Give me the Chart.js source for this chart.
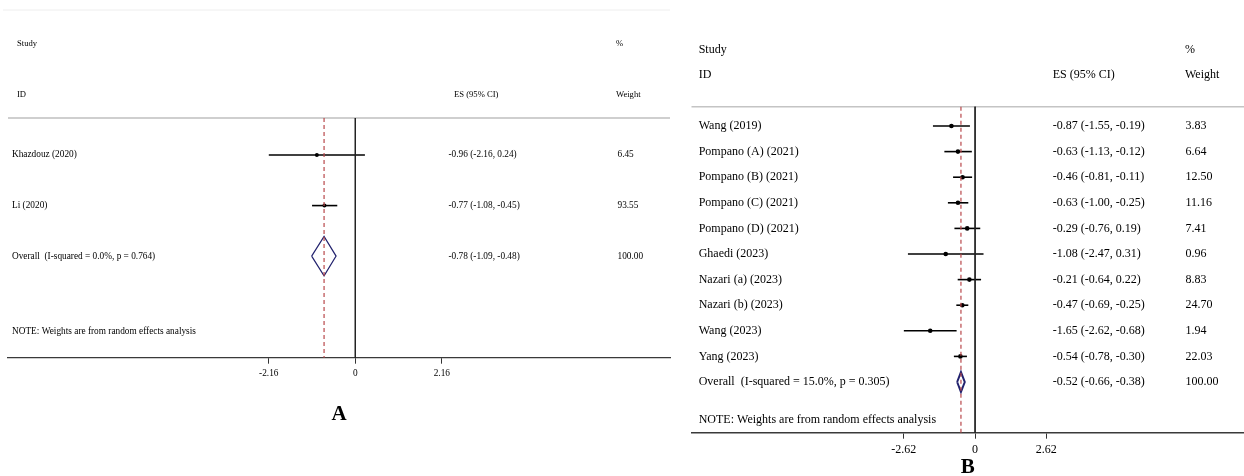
<!DOCTYPE html>
<html>
<head>
<meta charset="utf-8">
<title>Forest plots A and B</title>
<script src="https://cdn.jsdelivr.net/npm/chart.js@4"></script>
<style>
  html, body { margin: 0; padding: 0; background: #fff; }
  #wrap { position: relative; width: 1244px; height: 476px; overflow: hidden; }
  canvas { position: absolute; top: 0; }
  #plotA { left: 0; }
  #plotB { left: 680px; }
</style>
</head>
<body>
<div id="wrap">
  <canvas id="plotA" width="680" height="476"></canvas>
  <canvas id="plotB" width="564" height="476"></canvas>
</div>
<script>
// panel A data
const studiesA = ["Khazdouz (2020)", "Li (2020)"];
const esA = [-0.96, -0.77];
const lowA = [-2.16, -1.08];
const highA = [0.24, -0.45];
const weightA = [6.45, 93.55];
const overallLabelA = "Overall  (I-squared = 0.0%, p = 0.764)";
const overallA = [-0.78, -1.09, -0.48];   // es, low, high
const ticksA = [-2.16, 0, 2.16];

// panel B data
const studiesB = ["Wang (2019)", "Pompano (A) (2021)", "Pompano (B) (2021)", "Pompano (C) (2021)",
  "Pompano (D) (2021)", "Ghaedi (2023)", "Nazari (a) (2023)", "Nazari (b) (2023)", "Wang (2023)", "Yang (2023)"];
const esB = [-0.87, -0.63, -0.46, -0.63, -0.29, -1.08, -0.21, -0.47, -1.65, -0.54];
const lowB = [-1.55, -1.13, -0.81, -1.00, -0.76, -2.47, -0.64, -0.69, -2.62, -0.78];
const highB = [-0.19, -0.12, -0.11, -0.25, 0.19, 0.31, 0.22, -0.25, -0.68, -0.30];
const weightB = [3.83, 6.64, 12.50, 11.16, 7.41, 0.96, 8.83, 24.70, 1.94, 22.03];
const overallLabelB = "Overall  (I-squared = 15.0%, p = 0.305)";
const overallB = [-0.52, -0.66, -0.38];
const ticksB = [-2.62, 0, 2.62];

const noteText = "NOTE: Weights are from random effects analysis";
const FONT = '"Liberation Serif", "Times New Roman", serif';

function esText(es, lo, hi) {
  return es.toFixed(2) + " (" + lo.toFixed(2) + ", " + hi.toFixed(2) + ")";
}

// draws the text columns and header rules
const tablePlugin = {
  id: "table",
  beforeDatasetsDraw(chart) {
    const L = chart.options.plugins.table;
    const ctx = chart.ctx;
    const area = chart.chartArea;
    ctx.save();
    if (L.topRule) {
      ctx.strokeStyle = "#eeeeee";
      ctx.lineWidth = 1;
      ctx.beginPath();
      ctx.moveTo(L.topRule.x0, L.topRule.y);
      ctx.lineTo(area.right, L.topRule.y);
      ctx.stroke();
    }
    ctx.strokeStyle = L.ruleColor;
    ctx.lineWidth = L.ruleWidth;
    ctx.beginPath();
    ctx.moveTo(area.left, area.top);
    ctx.lineTo(area.right, area.top);
    ctx.stroke();
    ctx.restore();
  },
  afterDraw(chart) {
    const L = chart.options.plugins.table;
    const d = L.data;
    const ctx = chart.ctx;
    const y = v => chart.scales.y.getPixelForValue(v);
    ctx.save();
    ctx.fillStyle = "#000";
    ctx.textBaseline = "middle";
    ctx.textAlign = "left";

    ctx.font = L.headSize + "px " + FONT;
    ctx.fillText("Study", L.headX, y(L.studyRow));
    ctx.fillText("%", L.wtHeadX, y(L.studyRow));
    ctx.fillText("ID", L.headX, y(L.idRow));
    ctx.fillText("ES (95% CI)", L.esHeadX, y(L.idRow));
    ctx.fillText("Weight", L.wtHeadX, y(L.idRow));

    ctx.font = L.size + "px " + FONT;
    d.studies.forEach((s, i) => {
      ctx.fillText(s, L.nameX, y(i));
      ctx.fillText(esText(d.es[i], d.low[i], d.high[i]), L.esX, y(i));
      ctx.fillText(d.weight[i].toFixed(2), L.wtX, y(i));
    });
    const n = d.studies.length;
    ctx.fillText(d.overallLabel, L.nameX, y(n));
    ctx.fillText(esText(d.overall[0], d.overall[1], d.overall[2]), L.esX, y(n));
    ctx.fillText((100).toFixed(2), L.wtX, y(n));
    ctx.fillText(noteText, L.nameX, y(L.noteRow));
    ctx.restore();
  }
};

function makePanel(id, d, L) {
  const n = d.studies.length;
  const datasets = [];

  // zero line
  datasets.push({
    type: "line", data: [{x: 0, y: L.yMin}, {x: 0, y: L.yMax}],
    borderColor: "#222", borderWidth: 1, pointRadius: 0
  });
  // overall effect dashed line
  datasets.push({
    type: "line", data: [{x: d.overall[0], y: L.yMin}, {x: d.overall[0], y: L.yMax}],
    borderColor: "#b9484b", borderWidth: 1.2, borderDash: [4, 3], pointRadius: 0
  });
  // confidence intervals
  d.studies.forEach((s, i) => {
    datasets.push({
      type: "line", data: [{x: d.low[i], y: i}, {x: d.high[i], y: i}],
      borderColor: "#000", borderWidth: L.ciWidth, pointRadius: 0
    });
  });
  // point estimates
  datasets.push({
    type: "scatter", data: d.es.map((v, i) => ({x: v, y: i})),
    pointRadius: L.pointR, pointBackgroundColor: "#000", pointBorderWidth: 0
  });
  // overall diamond
  const h = 0.39;
  datasets.push({
    type: "line",
    data: [
      {x: d.overall[1], y: n}, {x: d.overall[0], y: n - h},
      {x: d.overall[2], y: n}, {x: d.overall[0], y: n + h},
      {x: d.overall[1], y: n}
    ],
    borderColor: "#22226e", borderWidth: L.diamondWidth, pointRadius: 0, fill: false
  });
  datasets.forEach(ds => { ds.clip = false; ds.tension = 0; });

  return new Chart(document.getElementById(id), {
    type: "line",
    data: { datasets },
    plugins: [tablePlugin],
    options: {
      responsive: false,
      animation: false,
      events: [],
      layout: { padding: L.padding, autoPadding: false },
      plugins: {
        legend: { display: false },
        tooltip: { enabled: false },
        table: Object.assign({ data: d }, L)
      },
      scales: {
        x: {
          type: "linear",
          min: L.xMin, max: L.xMax,
          afterBuildTicks: scale => { scale.ticks = d.ticks.map(v => ({ value: v })); },
          afterFit: scale => { scale.height = L.axisHeight; },
          ticks: {
            color: "#000", padding: 4, maxRotation: 0,
            font: { family: FONT, size: L.size },
            callback: v => String(v)
          },
          grid: { display: true, drawOnChartArea: false, drawTicks: true, tickLength: 6, color: "#333", lineWidth: 1 },
          border: { display: true, color: "#3a3a3a", width: L.axisWidth },
          title: {
            display: true, text: L.letter, color: "#000", padding: 0,
            font: { family: FONT, size: 21, weight: "bold", lineHeight: 0.8 }
          }
        },
        y: {
          type: "linear", display: false, reverse: true,
          min: L.yMin, max: L.yMax
        }
      }
    }
  });
}

makePanel("plotA", {
  studies: studiesA, es: esA, low: lowA, high: highA, weight: weightA,
  overallLabel: overallLabelA, overall: overallA, ticks: ticksA
}, {
  letter: "A",
  padding: { left: 8, right: 10, top: 118, bottom: 52.6 },
  axisHeight: 65.7,
  xMin: -8.672, xMax: 7.858, yMin: -0.733, yMax: 4.01,
  size: 9.3, headSize: 8.6,
  nameX: 12, esX: 448.5, wtX: 617.5,
  headX: 17, esHeadX: 454, wtHeadX: 616,
  studyRow: -2.2, idRow: -1.19, noteRow: 3.5,
  topRule: { x0: 3, y: 10 },
  ruleColor: "#cfcfcf", ruleWidth: 2,
  ciWidth: 1.6, pointR: 2, diamondWidth: 1.2, axisWidth: 1.2
});

makePanel("plotB", {
  studies: studiesB, es: esB, low: lowB, high: highB, weight: weightB,
  overallLabel: overallLabelB, overall: overallB, ticks: ticksB
}, {
  letter: "B",
  padding: { left: 11.5, right: 0, top: 106.7, bottom: 0 },
  axisHeight: 43.3,
  xMin: -10.43, xMax: 9.89, yMin: -0.754, yMax: 11.98,
  size: 12, headSize: 12,
  nameX: 18.7, esX: 372.7, wtX: 505.4,
  headX: 18.7, esHeadX: 372.7, wtHeadX: 505,
  studyRow: -2.97, idRow: -1.98, noteRow: 11.48,
  topRule: null,
  ruleColor: "#c4c4c4", ruleWidth: 1.5,
  ciWidth: 1.6, pointR: 2.3, diamondWidth: 2, axisWidth: 1.5
});
</script>
</body>
</html>
